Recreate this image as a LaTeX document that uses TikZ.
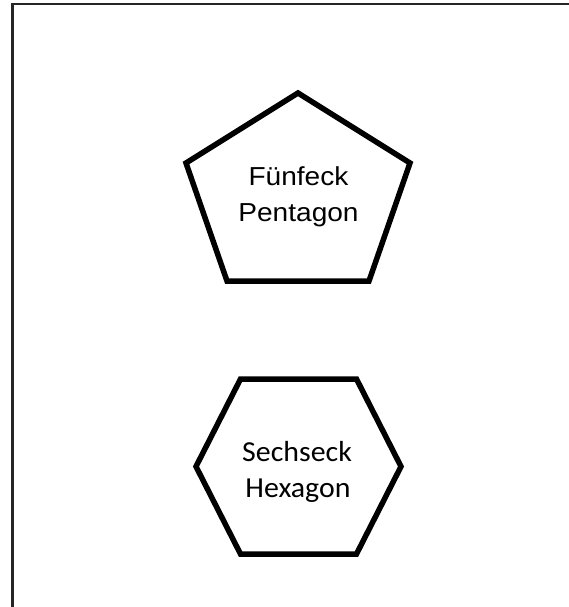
\documentclass[tikz,border=0pt]{standalone}
\usepackage{fontspec}
\newfontfamily\pentfont[FakeStretch=1.08]{Liberation Sans}
\newfontfamily\hexfont[FakeStretch=1.03]{Carlito}
\tikzset{
    shapeline/.style={line width=5.5pt, line join=miter},
    pentlabel/.style={anchor=base, inner sep=0pt, font=\pentfont\fontsize{26}{30}\selectfont},
    hexlabel/.style={anchor=base, inner sep=0pt, font=\hexfont\fontsize{29}{34}\selectfont}
}

\begin{document}
\begin{tikzpicture}[x=1pt,y=-1pt]
    \useasboundingbox (0,0) rectangle (569,607);
    \fill[white] (0,0) rectangle (569,607);
    % frame
    \draw[line width=2.6pt, black!85] (12.5,612) -- (12.5,4) -- (575,4);
    % pentagon
    \coordinate (PT) at (298,93);
    \coordinate (PR) at (410,163);
    \coordinate (PBR) at (369,281);
    \coordinate (PBL) at (227,281);
    \coordinate (PL) at (186,163);
    \draw[shapeline] (PT) -- (PR) -- (PBR) -- (PBL) -- (PL) -- cycle;
    \node[pentlabel] (fuenfeck) at (298.5,185) {Fünfeck};
    \node[pentlabel] (pentagon) at (298.5,221) {Pentagon};
    % hexagon
    \coordinate (HTL) at (240.5,379);
    \coordinate (HTR) at (356.5,379);
    \coordinate (HR) at (401,466.5);
    \coordinate (HBR) at (356.5,554);
    \coordinate (HBL) at (240.5,554);
    \coordinate (HL) at (196,466.5);
    \draw[shapeline] (HTL) -- (HTR) -- (HR) -- (HBR) -- (HBL) -- (HL) -- cycle;
    \node[hexlabel] (sechseck) at (297,461) {Sechseck};
    \node[hexlabel] (hexagon) at (298,497) {Hexagon};
\end{tikzpicture}
\end{document}
